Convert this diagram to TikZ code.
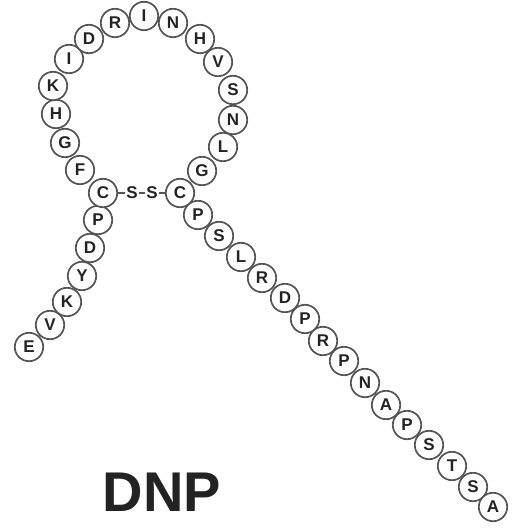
\documentclass[tikz,border=0pt]{standalone}
\usepackage{fontspec}
\setmainfont{Liberation Sans}
\definecolor{rim}{RGB}{85,85,85}
\definecolor{ink}{RGB}{35,35,35}
\tikzset{
  res/.style={circle,draw=rim,fill=white,line width=1.7pt,minimum size=28.4pt,
    inner sep=0pt,font=\fontsize{17}{17}\selectfont\bfseries,text=ink},
  sulfur/.style={inner sep=1.6pt,font=\fontsize{17}{17}\selectfont\bfseries,text=ink},
  bridge/.style={draw=rim,line width=1.8pt},
  title/.style={font=\fontsize{56}{56}\selectfont\bfseries,text=ink}
}

\begin{document}
\begin{tikzpicture}[x=1pt,y=-1pt]
  \useasboundingbox (0,0) rectangle (516,529);
  % residues, N-terminal tail, ring, C-terminal tail
  \foreach \l/\x/\y [count=\i] in {
    E/29/347, V/50/325, K/67/302, Y/82/276, D/90/248, P/98/220, C/103/193,
    F/80/170, G/65/143, H/56/114, K/53/86, I/69/59, D/89/39, R/115/23,
    I/144/16, N/173/23, H/200/39, V/218/62, S/233/90, N/233/120, L/223/147,
    G/202/171, C/180/193,
    P/198/215, S/219/236, L/241/257, R/262/278, D/285/298, P/305/319,
    R/323/341, P/344/361, N/365/383, A/386/405, P/407/425, S/429/445,
    T/452/466, S/473/487, A/493/507}
  {
    \node[res] (r\i) at (\x,\y) {\l};
  }
  % disulfide bridge
  \node[sulfur] (s1) at (132,193) {S};
  \node[sulfur] (s2) at (152,193) {S};
  \draw[bridge] (r7) -- (s1) -- (s2) -- (r23);
  \node[title] (name) at (162,492) {DNP};
\end{tikzpicture}
\end{document}
